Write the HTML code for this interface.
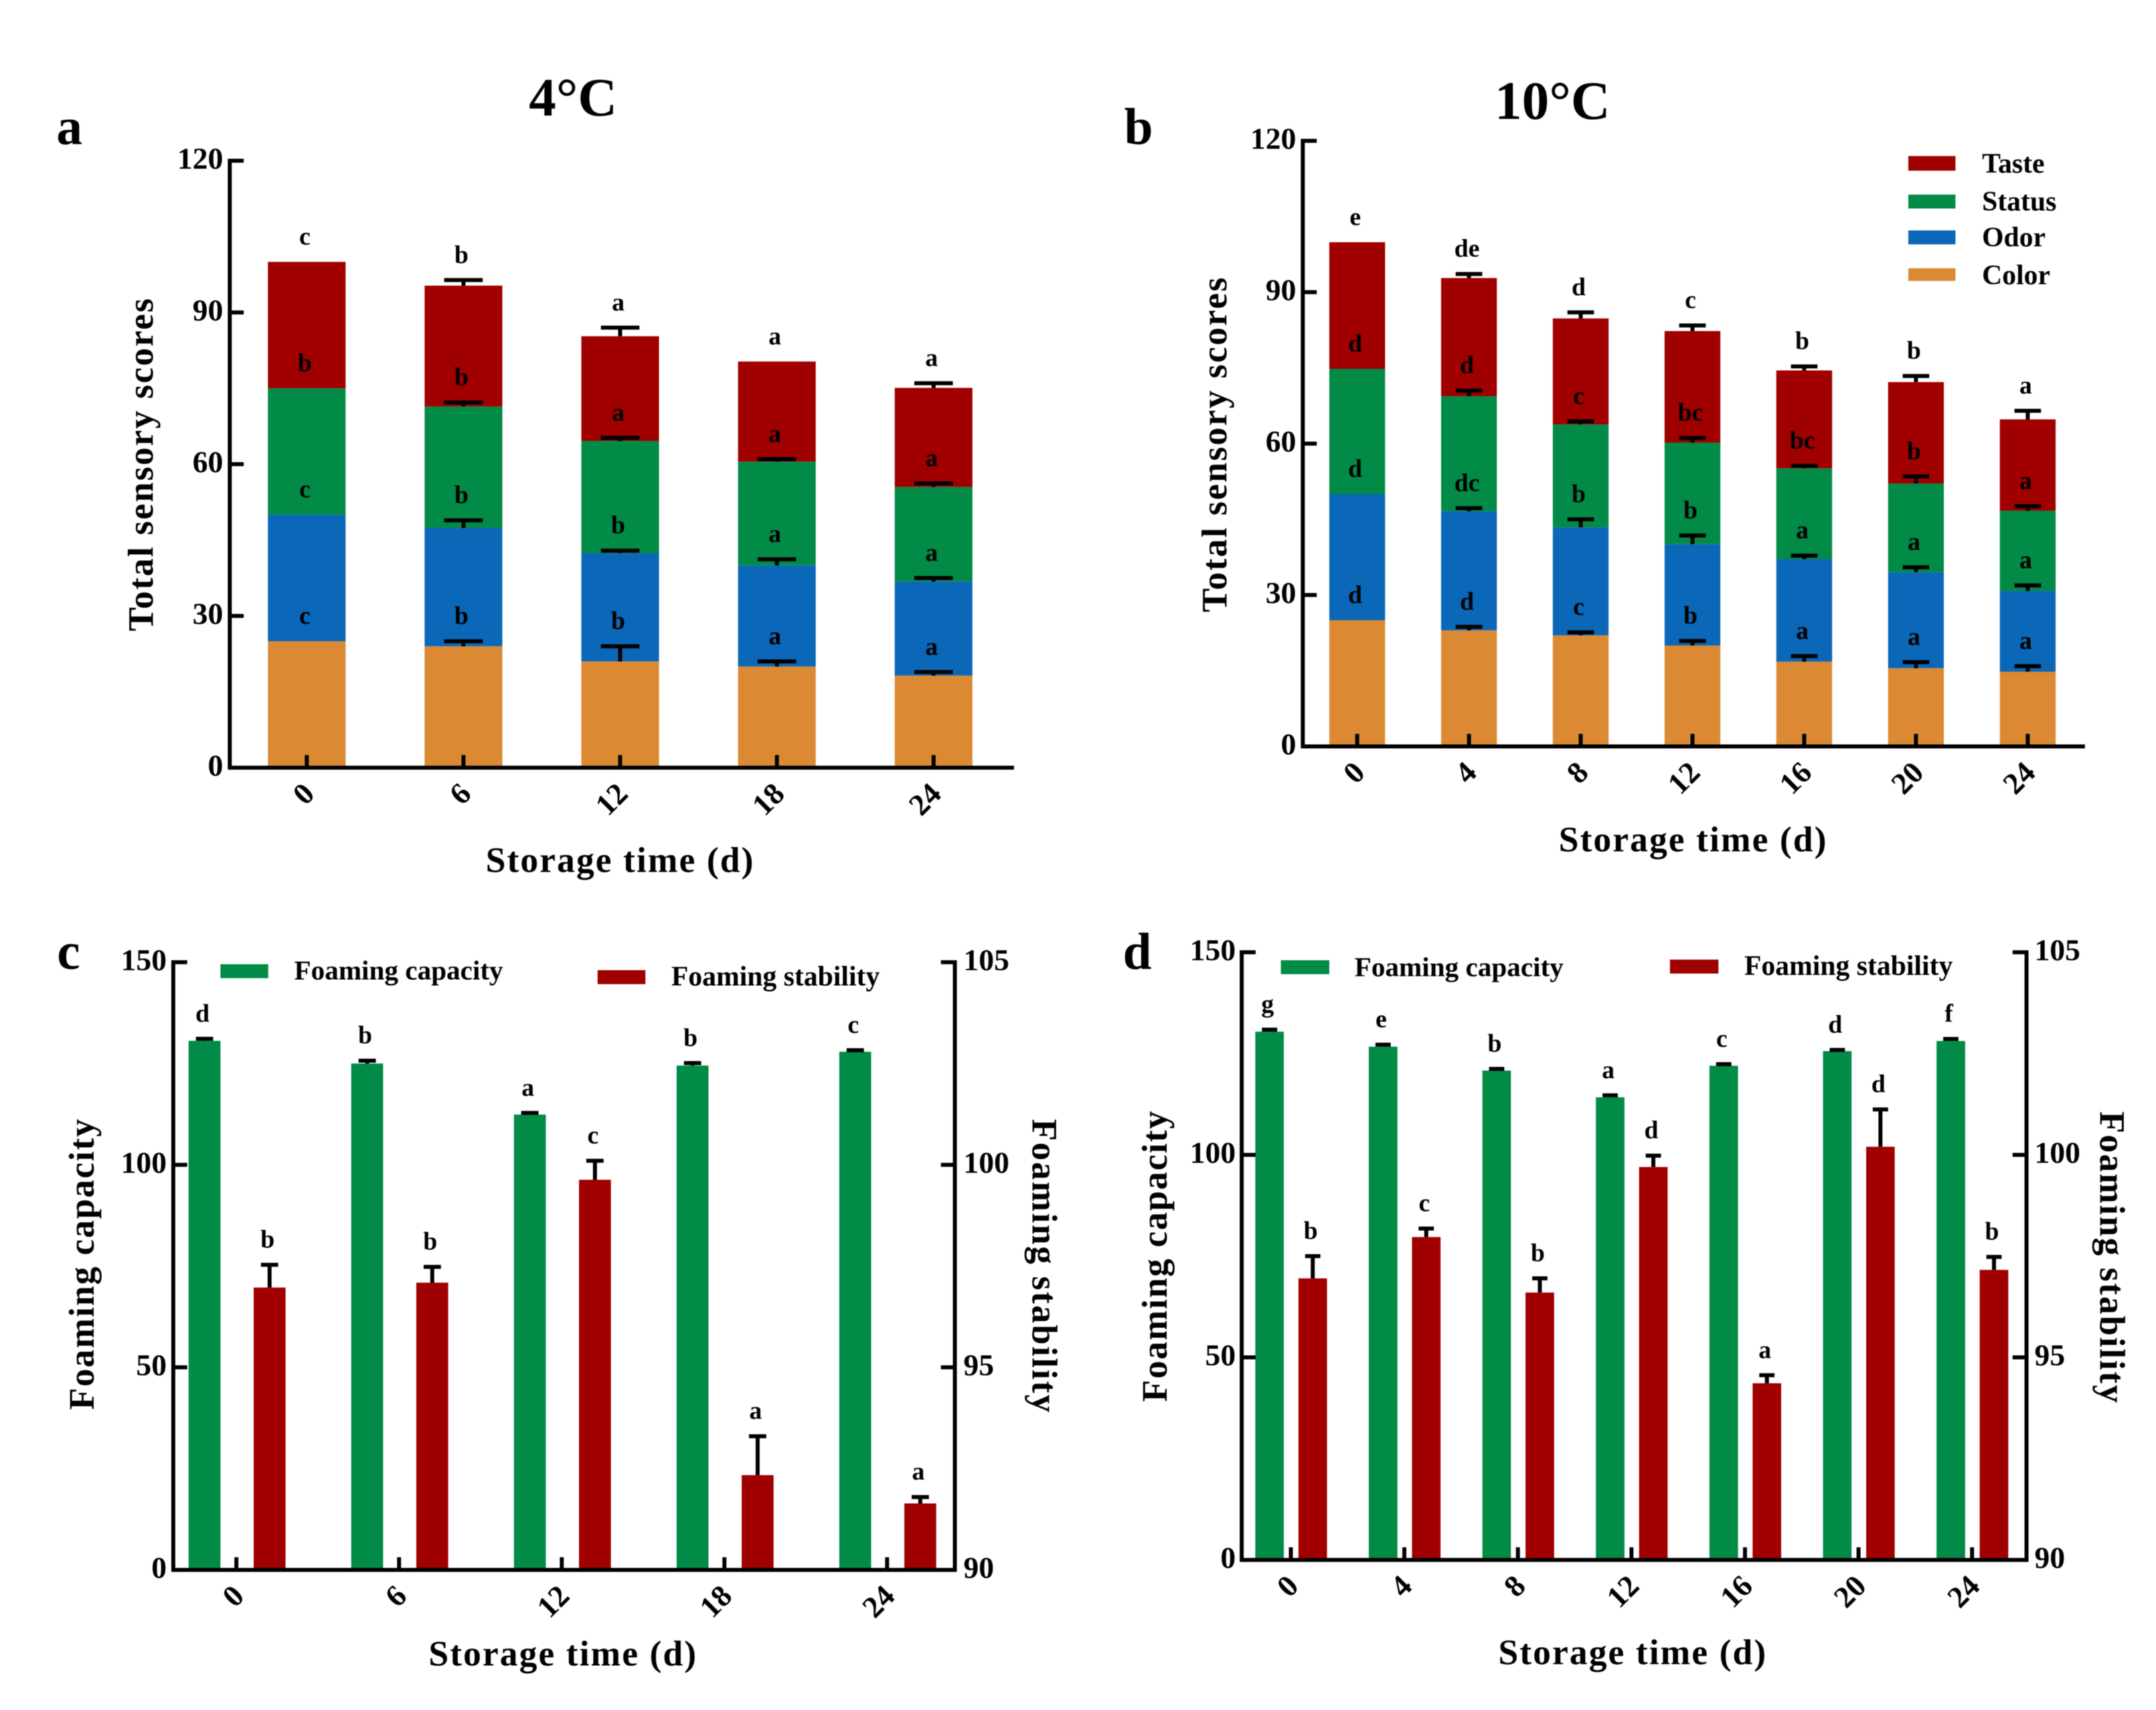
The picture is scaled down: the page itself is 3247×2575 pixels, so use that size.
<!DOCTYPE html>
<html lang="en">
<head>
<meta charset="utf-8">
<title>Sensory scores and foaming properties during storage</title>
<style>
html,body{margin:0;padding:0;background:#fff;}
svg{display:block;filter:blur(0.7px);}
text{font-family:"Liberation Serif",serif;font-weight:bold;fill:#000;}
</style>
</head>
<body>
<svg id="fig" xmlns="http://www.w3.org/2000/svg" width="3247" height="2575" viewBox="0 0 3247 2575">
  <rect width="3247" height="2575" fill="#fff"/>

  <g id="panel-a">
    <text x="85" y="217" font-size="78">a</text>
    <text x="863" y="174" font-size="82" text-anchor="middle">4°C</text>
    <text x="933" y="1313" font-size="54" text-anchor="middle" textLength="403">Storage time (d)</text>
    <text transform="translate(230 700) rotate(-90)" font-size="54" text-anchor="middle" textLength="501">Total sensory scores</text>
  </g>

  <g id="panel-b">
    <text x="1693" y="217" font-size="78">b</text>
    <text x="2338" y="179" font-size="82" text-anchor="middle">10°C</text>
    <text x="2549" y="1282" font-size="54" text-anchor="middle" textLength="403">Storage time (d)</text>
    <text transform="translate(1847 670) rotate(-90)" font-size="54" text-anchor="middle" textLength="504">Total sensory scores</text>
    <g>
      <rect x="2874" y="235" width="71" height="22" fill="#a00000"/>
      <text x="2985" y="260" font-size="42">Taste</text>
      <rect x="2874" y="293" width="71" height="21" fill="#028a47"/>
      <text x="2985" y="317" font-size="42">Status</text>
      <rect x="2874" y="347" width="71" height="21" fill="#0b67b7"/>
      <text x="2985" y="371" font-size="42">Odor</text>
      <rect x="2874" y="404" width="71" height="19" fill="#db8a33"/>
      <text x="2985" y="428" font-size="42">Color</text>
    </g>
  </g>

  <g id="panel-c">
    <text x="86" y="1459" font-size="78">c</text>
    <text x="847" y="2508" font-size="54" text-anchor="middle" textLength="403">Storage time (d)</text>
    <text transform="translate(141 1904) rotate(-90)" font-size="54" text-anchor="middle" textLength="438">Foaming capacity</text>
    <text transform="translate(1555 1906) rotate(90)" font-size="54" text-anchor="middle" textLength="442">Foaming stability</text>
    <g>
      <rect x="332" y="1452" width="72" height="21" fill="#028a47"/>
      <text x="443" y="1475" font-size="41.5">Foaming capacity</text>
      <rect x="900" y="1461" width="72" height="21" fill="#a00000"/>
      <text x="1011" y="1484" font-size="42">Foaming stability</text>
    </g>
  </g>

  <g id="panel-d">
    <text x="1691" y="1459" font-size="78">d</text>
    <text x="2458" y="2506" font-size="54" text-anchor="middle" textLength="403">Storage time (d)</text>
    <text transform="translate(1757 1892) rotate(-90)" font-size="54" text-anchor="middle" textLength="438">Foaming capacity</text>
    <text transform="translate(3163 1893) rotate(90)" font-size="54" text-anchor="middle" textLength="439">Foaming stability</text>
    <g>
      <rect x="1929" y="1446" width="73" height="21" fill="#028a47"/>
      <text x="2040" y="1470" font-size="41.5">Foaming capacity</text>
      <rect x="2515" y="1445" width="73" height="21" fill="#a00000"/>
      <text x="2627" y="1468" font-size="42">Foaming stability</text>
    </g>
  </g>
</svg>

<script>
// ---------- Panel a data (4 degC) ----------
const aCategories = ['0', '6', '12', '18', '24'];
const aTicks = [0, 30, 60, 90, 120];
const aColor = [25, 24, 21, 20, 18.2];
const aOdor = [25, 23.4, 21.4, 20, 18.6];
const aStatus = [25, 24, 22.2, 20.5, 18.7];
const aTaste = [25, 23.9, 20.7, 19.8, 19.6];
const aColorErr = [0, 1, 3, 1, 0.7];
const aOdorErr = [0, 1.5, 0.5, 1.2, 0.7];
const aStatusErr = [0, 0.8, 0.6, 0.5, 0.7];
const aTasteErr = [0, 1.1, 1.7, 0, 0.9];
const aColorSig = ['c', 'b', 'b', 'a', 'a'];
const aOdorSig = ['c', 'b', 'b', 'a', 'a'];
const aStatusSig = ['b', 'b', 'a', 'a', 'a'];
const aTasteSig = ['c', 'b', 'a', 'a', 'a'];

// ---------- Panel b data (10 degC) ----------
const bCategories = ['0', '4', '8', '12', '16', '20', '24'];
const bTicks = [0, 30, 60, 90, 120];
const bColor = [25, 23, 22, 20, 16.8, 15.5, 14.8];
const bOdor = [25, 23.6, 21.4, 20.1, 20.3, 19, 16];
const bStatus = [24.8, 22.8, 20.4, 20.1, 18, 17.6, 15.9];
const bTaste = [25.1, 23.4, 21, 22.1, 19.4, 20.1, 18.1];
const bColorErr = [0, 0.7, 0.6, 0.9, 1.1, 1.2, 1.1];
const bOdorErr = [0, 0.6, 1.6, 1.7, 0.7, 1, 1.1];
const bStatusErr = [0, 1.1, 0.6, 0.9, 0.5, 1.4, 0.9];
const bTasteErr = [0, 0.8, 1.2, 1.1, 0.8, 1.2, 1.7];
const bColorSig = ['d', 'd', 'c', 'b', 'a', 'a', 'a'];
const bOdorSig = ['d', 'dc', 'b', 'b', 'a', 'a', 'a'];
const bStatusSig = ['d', 'd', 'c', 'bc', 'bc', 'b', 'a'];
const bTasteSig = ['e', 'de', 'd', 'c', 'b', 'b', 'a'];

// ---------- Panel c data ----------
const cCategories = ['0', '6', '12', '18', '24'];
const cLeftTicks = [0, 50, 100, 150];
const cRightTicks = [90, 95, 100, 105];
const cCapacity = [130.6, 125, 112.4, 124.5, 127.9];
const cCapacityErr = [0.5, 0.7, 0.4, 0.6, 0.4];
const cCapacitySig = ['d', 'b', 'a', 'b', 'c'];
const cStability = [96.97, 97.09, 99.63, 92.34, 91.64];
const cStabilityErr = [0.56, 0.39, 0.47, 0.96, 0.16];
const cStabilitySig = ['b', 'b', 'c', 'a', 'a'];

// ---------- Panel d data ----------
const dCategories = ['0', '4', '8', '12', '16', '20', '24'];
const dLeftTicks = [0, 50, 100, 150];
const dRightTicks = [90, 95, 100, 105];
const dCapacity = [130.4, 126.7, 120.8, 114.2, 122, 125.6, 128.1];
const dCapacityErr = [0.5, 0.5, 0.4, 0.5, 0.4, 0.3, 0.5];
const dCapacitySig = ['g', 'e', 'b', 'a', 'c', 'd', 'f'];
const dStability = [96.95, 97.97, 96.6, 99.7, 94.36, 100.2, 97.16];
const dStabilityErr = [0.55, 0.21, 0.35, 0.28, 0.2, 0.92, 0.32];
const dStabilitySig = ['b', 'c', 'b', 'd', 'a', 'd', 'b'];

const COLOR_TAN = '#db8a33', COLOR_BLUE = '#0b67b7', COLOR_GREEN = '#028a47', COLOR_RED = '#a00000';
const SVGNS = 'http://www.w3.org/2000/svg';

function make(parent, tag, attrs, content) {
  const el = document.createElementNS(SVGNS, tag);
  for (const k in attrs) el.setAttribute(k, attrs[k]);
  if (content !== undefined) el.textContent = content;
  parent.appendChild(el);
  return el;
}
function scale(d0, d1, r0, r1) {
  return function (v) { return r0 + (v - d0) * (r1 - r0) / (d1 - d0); };
}
function drawBar(g, cx, yTop, yBase, w, fill, name) {
  const el = make(g, 'rect', { x: cx - w / 2, y: yTop, width: w, height: yBase - yTop, fill: fill });
  
  
}
function drawError(g, cx, yTop, yCap, capW, name) {
  const el = make(g, 'path', {
    d: 'M' + cx + ' ' + yTop + 'V' + yCap + 'M' + (cx - capW / 2) + ' ' + yCap + 'H' + (cx + capW / 2),
    stroke: '#000', 'stroke-width': 6, fill: 'none'
  });
  
  
}
function drawSig(g, cx, yCap, letter, name) {
  const el = make(g, 'text', { x: cx - 3, y: yCap - 26, 'font-size': 38, 'text-anchor': 'middle' }, letter);
  
  
}
function drawYAxis(g, x, y, ticks, labelX, anchor, tickDir, name) {
  const axis = make(g, 'line', { x1: x, x2: x, y1: y(ticks[ticks.length - 1]) - 3, y2: y(ticks[0]) + 3, stroke: '#000', 'stroke-width': 6 });
  
  
  ticks.forEach(function (t) {
    const tick = make(g, 'line', { x1: x, x2: x + tickDir * 21, y1: y(t), y2: y(t), stroke: '#000', 'stroke-width': 6 });
    
    
    const lab = make(g, 'text', { x: labelX, y: y(t) + 12, 'font-size': 46, 'text-anchor': anchor }, t);
    
    
  });
}
function drawXAxis(g, x0, x1, y0, tickX, cats) {
  const axis = make(g, 'line', { x1: x0 - 3, x2: x1, y1: y0, y2: y0, stroke: '#000', 'stroke-width': 6 });
  
  
  cats.forEach(function (c, i) {
    const tx = tickX(i);
    const tick = make(g, 'line', { x1: tx, x2: tx, y1: y0, y2: y0 - 19, stroke: '#000', 'stroke-width': 6 });
    
    
    const lab = make(g, 'text', {
      transform: 'translate(' + (tx + 14) + ' ' + (y0 + 42) + ') rotate(-45)',
      'font-size': 46, 'text-anchor': 'end'
    }, c);
    
    
  });
}
function drawStacked(panelId, layout, cats, ticks, series) {
  const g = document.getElementById(panelId);
  const y = scale(ticks[0], ticks[ticks.length - 1], layout.y0, layout.yTop);
  const x = function (i) { return layout.x0 + i * layout.step; };
  const sums = cats.map(function () { return 0; });
  const overlay = [];
  series.forEach(function (s) {
    s.values.forEach(function (v, i) {
      const bottom = sums[i];
      const top = bottom + v;
      sums[i] = top;
      drawBar(g, x(i), y(top), y(bottom), layout.barW, s.fill, 'bar-' + s.name + '-' + cats[i]);
      overlay.push({ i: i, top: top, err: s.err[i], sig: s.sig[i], name: s.name });
    });
  });
  overlay.forEach(function (o) {
    const capY = y(o.top + o.err);
    if (o.err > 0) drawError(g, x(o.i), y(o.top), capY, layout.capW, 'error-bar-' + o.name + '-' + cats[o.i]);
    drawSig(g, x(o.i), capY, o.sig, 'significance-letter-' + o.name + '-' + cats[o.i]);
  });
  drawYAxis(g, layout.axisX, y, ticks, layout.labelX, 'end', 1, 'y-axis');
  drawXAxis(g, layout.axisX, layout.axisEnd, layout.y0, x, cats);
}
function drawGrouped(panelId, layout, cats, leftTicks, rightTicks, capacity, capErr, capSig, stability, stabErr, stabSig) {
  const g = document.getElementById(panelId);
  const yL = scale(leftTicks[0], leftTicks[leftTicks.length - 1], layout.y0, layout.yTop);
  const yR = scale(rightTicks[0], rightTicks[rightTicks.length - 1], layout.y0, layout.yTop);
  const step = layout.step;
  const xG = function (i) { return layout.greenX + i * step; };
  const xR = function (i) { return layout.redX + i * step; };
  const xT = function (i) { return layout.tickX + i * step; };
  cats.forEach(function (c, i) {
    drawBar(g, xG(i), yL(capacity[i]), layout.y0, layout.barW, COLOR_GREEN, 'bar-foaming-capacity-' + c);
    drawBar(g, xR(i), yR(stability[i]), layout.y0, layout.barW, COLOR_RED, 'bar-foaming-stability-' + c);
    const capTopG = yL(capacity[i] + capErr[i]);
    const capTopR = yR(stability[i] + stabErr[i]);
    drawError(g, xG(i), yL(capacity[i]), capTopG, layout.capW, 'error-bar-foaming-capacity-' + c);
    drawError(g, xR(i), yR(stability[i]), capTopR, layout.capW, 'error-bar-foaming-stability-' + c);
    drawSig(g, xG(i), capTopG, capSig[i], 'significance-letter-foaming-capacity-' + c);
    drawSig(g, xR(i), capTopR, stabSig[i], 'significance-letter-foaming-stability-' + c);
  });
  drawYAxis(g, layout.axisX, yL, leftTicks, layout.labelX, 'end', 1, 'left-y-axis');
  drawYAxis(g, layout.axisR, yR, rightTicks, layout.labelR, 'start', -1, 'right-y-axis');
  drawXAxis(g, layout.axisX, layout.axisR + 3, layout.y0, xT, cats);
}

drawStacked('panel-a',
  { x0: 462, step: 236, barW: 117, capW: 58, y0: 1156, yTop: 242, axisX: 346, axisEnd: 1527, labelX: 336 },
  aCategories, aTicks, [
    { name: 'color', fill: COLOR_TAN, values: aColor, err: aColorErr, sig: aColorSig },
    { name: 'odor', fill: COLOR_BLUE, values: aOdor, err: aOdorErr, sig: aOdorSig },
    { name: 'status', fill: COLOR_GREEN, values: aStatus, err: aStatusErr, sig: aStatusSig },
    { name: 'taste', fill: COLOR_RED, values: aTaste, err: aTasteErr, sig: aTasteSig }
  ]);
drawStacked('panel-b',
  { x0: 2044, step: 168.3, barW: 84, capW: 40, y0: 1124, yTop: 212, axisX: 1962, axisEnd: 3140, labelX: 1952 },
  bCategories, bTicks, [
    { name: 'color', fill: COLOR_TAN, values: bColor, err: bColorErr, sig: bColorSig },
    { name: 'odor', fill: COLOR_BLUE, values: bOdor, err: bOdorErr, sig: bOdorSig },
    { name: 'status', fill: COLOR_GREEN, values: bStatus, err: bStatusErr, sig: bStatusSig },
    { name: 'taste', fill: COLOR_RED, values: bTaste, err: bTasteErr, sig: bTasteSig }
  ]);
drawGrouped('panel-c',
  { greenX: 308, redX: 406, tickX: 356, step: 245, barW: 48, capW: 26, y0: 2364, yTop: 1449, axisX: 261, axisR: 1438, labelX: 251, labelR: 1451 },
  cCategories, cLeftTicks, cRightTicks, cCapacity, cCapacityErr, cCapacitySig, cStability, cStabilityErr, cStabilitySig);
drawGrouped('panel-d',
  { greenX: 1912, redX: 1977, tickX: 1944, step: 171, barW: 43, capW: 23, y0: 2349, yTop: 1434, axisX: 1870, axisR: 3052, labelX: 1861, labelR: 3064 },
  dCategories, dLeftTicks, dRightTicks, dCapacity, dCapacityErr, dCapacitySig, dStability, dStabilityErr, dStabilitySig);
</script>
</body>
</html>
